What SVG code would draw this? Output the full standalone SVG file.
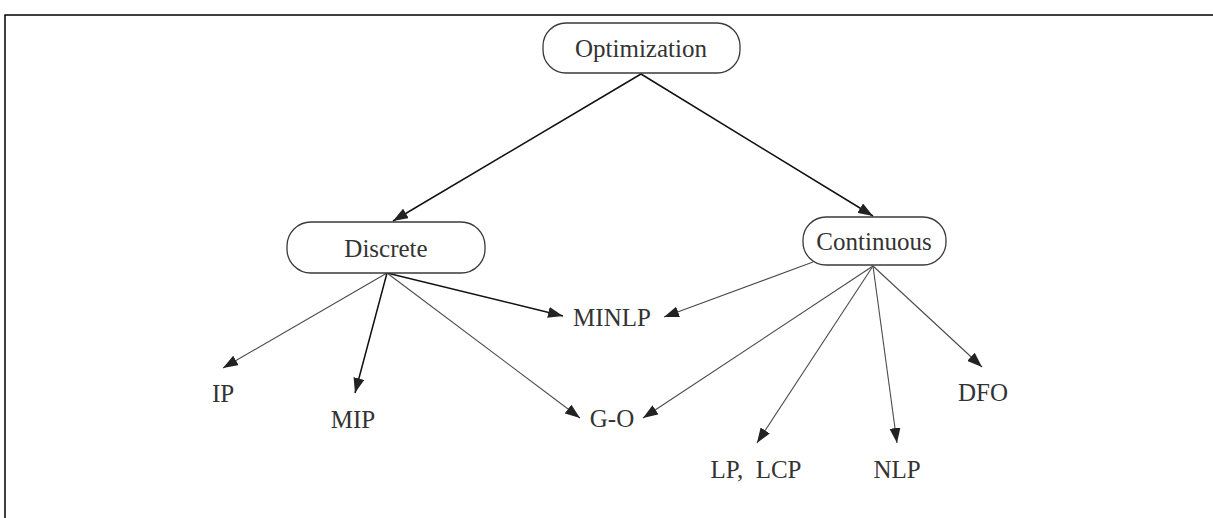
<svg xmlns="http://www.w3.org/2000/svg" width="1213" height="518" viewBox="0 0 1213 518">
  <style>
    .frame { fill: none; stroke: #000; stroke-width: 1.5; }
    .box { fill: #fff; stroke: #3a3a3a; stroke-width: 1.3; }
    .lbl { font-family: "Liberation Serif", "Times New Roman", serif; font-size: 25px; fill: #333; text-anchor: middle; white-space: pre; }
    .edge { fill: none; stroke: #4a4a4a; stroke-width: 1.1; }
    .edge.strong { stroke: #111; stroke-width: 1.5; }
  </style>
  <defs>
    <marker id="arrow" viewBox="0 0 15 11" refX="15" refY="5.5" markerWidth="15" markerHeight="11" markerUnits="userSpaceOnUse" orient="auto">
      <path d="M0,0 L15,5.5 L0,11 z" fill="#222"/>
    </marker>
  </defs>

  <rect width="1213" height="518" fill="#fff"/>
  <path class="frame" d="M5,518 V15 H1213"/>

  <!-- connectors -->
  <g id="connectors" marker-end="url(#arrow)">
    <line class="edge strong" x1="641" y1="74" x2="393" y2="221"/>
    <line class="edge strong" x1="641" y1="74" x2="873" y2="216"/>
    <line class="edge" x1="387" y1="273" x2="223" y2="368"/>
    <line class="edge strong" x1="387" y1="273" x2="355" y2="393"/>
    <line class="edge strong" x1="387" y1="273" x2="563" y2="316"/>
    <line class="edge" x1="387" y1="273" x2="580" y2="418"/>
    <line class="edge" x1="813" y1="262" x2="664" y2="317"/>
    <line class="edge" x1="873" y1="266" x2="643" y2="418"/>
    <line class="edge" x1="873" y1="266" x2="757" y2="443"/>
    <line class="edge" x1="873" y1="266" x2="897" y2="443"/>
    <line class="edge" x1="873" y1="266" x2="982" y2="367"/>
  </g>

  <!-- nodes -->
  <g id="optimization">
    <rect class="box" x="543" y="23" width="197" height="50" rx="23"/>
    <text class="lbl" x="641" y="57">Optimization</text>
  </g>
  <g id="discrete">
    <rect class="box" x="287" y="222" width="198" height="51" rx="24"/>
    <text class="lbl" x="386" y="257">Discrete</text>
  </g>
  <g id="continuous">
    <rect class="box" x="803" y="217" width="143" height="48" rx="23"/>
    <text class="lbl" x="874" y="250">Continuous</text>
  </g>
  <g id="ip"><text class="lbl" x="223" y="402">IP</text></g>
  <g id="mip"><text class="lbl" x="353" y="428">MIP</text></g>
  <g id="minlp"><text class="lbl" x="612" y="326">MINLP</text></g>
  <g id="go"><text class="lbl" x="612" y="427">G-O</text></g>
  <g id="lp-lcp"><text class="lbl" x="756" y="478" xml:space="preserve">LP,  LCP</text></g>
  <g id="nlp"><text class="lbl" x="897" y="478">NLP</text></g>
  <g id="dfo"><text class="lbl" x="983" y="401">DFO</text></g>
</svg>
